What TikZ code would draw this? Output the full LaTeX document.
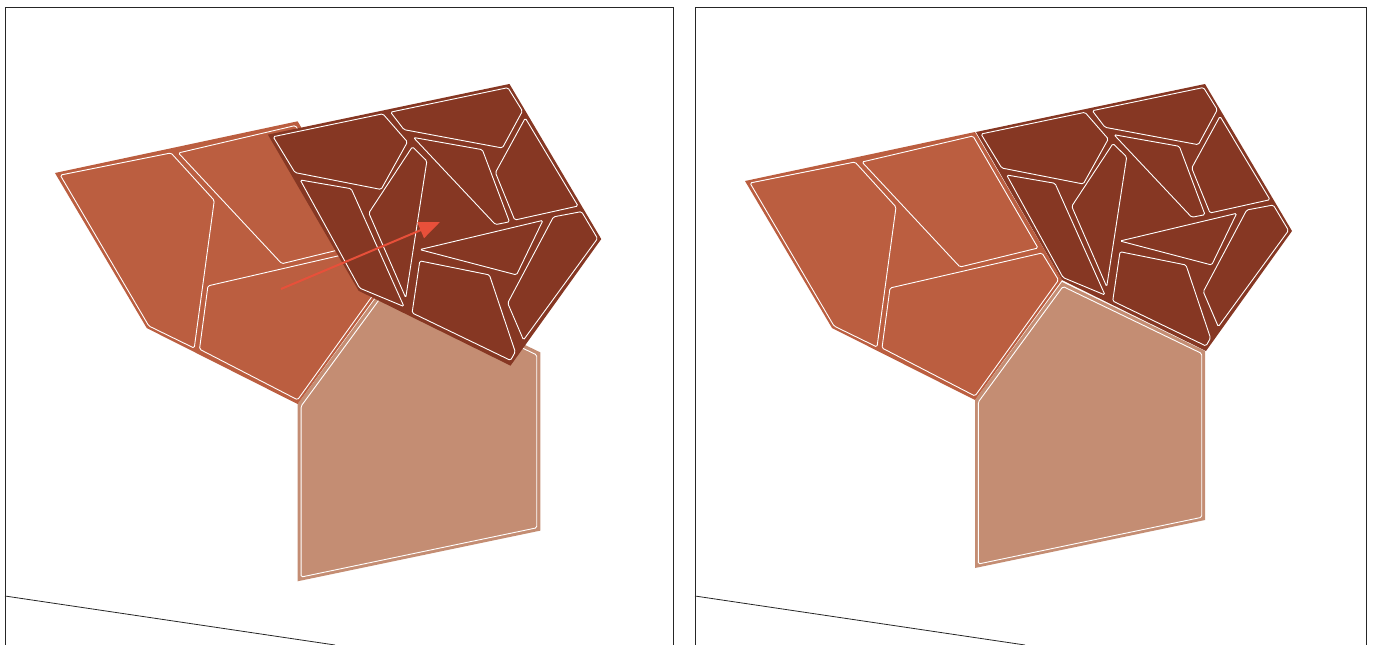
\documentclass[tikz,border=0pt]{standalone}
\definecolor{midrust}{RGB}{187,94,64}
\definecolor{darkrust}{RGB}{134,55,35}
\definecolor{lightrust}{RGB}{196,141,115}
\definecolor{arrowred}{RGB}{232,80,58}
\usetikzlibrary{arrows.meta}

% pentagons in the coordinates of the right panel
\newcommand{\lightpentagon}{%
  \fill[lightrust] (975,400) -- (1062,282) -- (1205,351) -- (1205,520) -- (975,568) -- cycle;
  \draw[piece] (978.3,402) -- (1063,286.5) -- (1201.7,353.5) -- (1201.7,517.3) -- (978.3,564) -- cycle;
}
\newcommand{\midpentagon}{%
  \fill[midrust] (745,181) -- (975,132) -- (1062,280) -- (975,400) -- (832,328) -- cycle;
  \draw[piece] (750,183) -- (855,162) -- (896,207) -- (877,347) -- (834,326) -- cycle;
  \draw[piece] (862,162) -- (973,136) -- (1038,248) -- (960,267) -- cycle;
  \draw[piece] (890,288) -- (1042,253) -- (1058.5,280) -- (975,396) -- (882,348) -- cycle;
}
\newcommand{\darkpentagon}{%
  \fill[darkrust] (976,132) -- (1205,84) -- (1292,231) -- (1206,351) -- (1062,280) -- cycle;
  \draw[piece] (981,134) -- (1085,112.3) -- (1108.3,139) -- (1083.3,184) -- (1001.7,168) -- cycle;
  \draw[piece] (1092.3,110.7) -- (1203.5,87.5) -- (1217.3,109.7) -- (1198.3,144.7) -- (1105,127.3) -- cycle;
  \draw[piece] (1220,116.3) -- (1270,199.7) -- (1210,213) -- (1191.7,168) -- cycle;
  \draw[piece] (1114,134.7) -- (1179.3,146.3) -- (1205,214.7) -- (1191.7,217.3) -- cycle;
  \draw[piece] (1113,143.5) -- (1126.7,157) -- (1106.7,286.7) -- (1071.7,206.3) -- cycle;
  \draw[piece] (1006.7,175) -- (1055,183.3) -- (1105,295) -- (1063,277.5) -- cycle;
  \draw[piece] (1246.7,210) -- (1273.3,205) -- (1288.5,230.5) -- (1218.3,326.7) -- (1203.3,291.7) -- cycle;
  \draw[piece] (1120,241) -- (1236.7,213.3) -- (1211.7,265) -- cycle;
  \draw[piece] (1120,251.7) -- (1186,265) -- (1210.5,338) -- (1206,346) -- (1112.7,301) -- cycle;
}

\begin{document}
\begin{tikzpicture}[x=1pt, y=-1pt,
    piece/.style={draw=white, line width=0.9pt, rounded corners=1.5pt},
    frame/.style={draw=black!85, line width=0.8pt},
    movearrow/.style={draw=arrowred, line width=2pt, -{Triangle[length=21pt, width=17pt]}}]
  \useasboundingbox (0,0) rectangle (1373,645);

  % left panel: before the move
  \draw[frame] (5,645) -- (5,7) -- (673,7) -- (673,645);
  \draw[frame] (5,596) -- (335,645);
  \begin{scope}[shift={(-731,-17.96)}, scale=1.055]
    \lightpentagon
    \midpentagon
  \end{scope}
  \begin{scope}[shift={(-761.8,-4.66)}, scale=1.055]
    \darkpentagon
  \end{scope}
  \coordinate (from) at (281,289);
  \coordinate (to) at (440,222);
  \draw[movearrow] (from) -- (to);

  % right panel: after the move
  \draw[frame] (695,645) -- (695,7) -- (1366,7) -- (1366,645);
  \draw[frame] (695,596) -- (1025,645);
  \lightpentagon
  \midpentagon
  \darkpentagon
\end{tikzpicture}
\end{document}
